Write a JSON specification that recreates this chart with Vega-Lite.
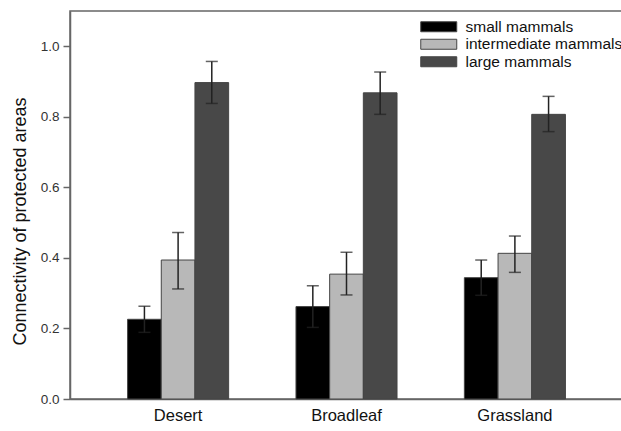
{
  "$schema": "https://vega.github.io/schema/vega-lite/v6.json",
  "width": 553,
  "height": 388,
  "autosize": "none",
  "padding": {"left": 70, "top": 11, "right": 0, "bottom": 32},
  "background": "white",
  "config": {
    "font": "Liberation Sans",
    "view": {"stroke": "#666666", "strokeWidth": 1.5}
  },
  "data": {
    "values": [
      {"habitat": "Desert", "group": "small mammals", "value": 0.226, "lo": 0.189, "hi": 0.263},
      {"habitat": "Desert", "group": "intermediate mammals", "value": 0.394, "lo": 0.312, "hi": 0.472},
      {"habitat": "Desert", "group": "large mammals", "value": 0.897, "lo": 0.838, "hi": 0.957},
      {"habitat": "Broadleaf", "group": "small mammals", "value": 0.262, "lo": 0.203, "hi": 0.321},
      {"habitat": "Broadleaf", "group": "intermediate mammals", "value": 0.354, "lo": 0.295, "hi": 0.416},
      {"habitat": "Broadleaf", "group": "large mammals", "value": 0.868, "lo": 0.807, "hi": 0.927},
      {"habitat": "Grassland", "group": "small mammals", "value": 0.344, "lo": 0.294, "hi": 0.394},
      {"habitat": "Grassland", "group": "intermediate mammals", "value": 0.413, "lo": 0.359, "hi": 0.462},
      {"habitat": "Grassland", "group": "large mammals", "value": 0.807, "lo": 0.758, "hi": 0.858}
    ]
  },
  "encoding": {
    "x": {
      "field": "habitat",
      "type": "nominal",
      "sort": ["Desert", "Broadleaf", "Grassland"],
      "scale": {"paddingInner": 0.4, "paddingOuter": 0.342, "align": 0.5},
      "axis": {
        "title": null,
        "labelAngle": 0,
        "labelFontSize": 16.5,
        "labelColor": "#111111",
        "labelPadding": 8,
        "ticks": false,
        "domainColor": "#666666",
        "domainWidth": 1.5
      }
    },
    "xOffset": {
      "field": "group",
      "type": "nominal",
      "sort": ["small mammals", "intermediate mammals", "large mammals"],
      "scale": {"paddingInner": 0, "paddingOuter": 0}
    }
  },
  "layer": [
    {
      "mark": {"type": "bar", "stroke": "#444444", "strokeWidth": 1},
      "encoding": {
        "y": {
          "field": "value",
          "type": "quantitative",
          "scale": {"domain": [0, 1.1], "nice": false},
          "axis": {
            "title": "Connectivity of protected areas",
            "titleFontSize": 18,
            "titleFontWeight": "normal",
            "titleColor": "#111111",
            "titlePadding": 11,
            "titleY": 210,
            "values": [0, 0.2, 0.4, 0.6, 0.8, 1.0],
            "format": ".1f",
            "grid": false,
            "labelFontSize": 13.5,
            "labelColor": "#333333",
            "labelPadding": 4,
            "tickSize": 7,
            "tickColor": "#666666",
            "tickWidth": 1.5,
            "domainColor": "#666666",
            "domainWidth": 1.5
          }
        },
        "color": {
          "field": "group",
          "type": "nominal",
          "sort": ["small mammals", "intermediate mammals", "large mammals"],
          "scale": {
            "domain": ["small mammals", "intermediate mammals", "large mammals"],
            "range": ["#000000", "#b8b8b8", "#484848"]
          },
          "legend": {
            "title": null,
            "orient": "none",
            "legendX": 361,
            "legendY": 8,
            "padding": 0,
            "symbolType": "M-3.6,-1H3.6V1H-3.6Z",
            "symbolSize": 100,
            "symbolStrokeColor": "#444444",
            "symbolStrokeWidth": 1,
            "labelOffset": 19,
            "labelFontSize": 15.5,
            "labelColor": "#111111",
            "rowPadding": 0.5
          }
        }
      }
    },
    {
      "mark": {"type": "rule", "color": "#222222", "strokeWidth": 1.5},
      "encoding": {
        "y": {"field": "lo", "type": "quantitative"},
        "y2": {"field": "hi"}
      }
    },
    {
      "mark": {"type": "tick", "color": "#222222", "thickness": 1.5, "size": 12},
      "encoding": {
        "y": {"field": "hi", "type": "quantitative"}
      }
    },
    {
      "mark": {"type": "tick", "color": "#222222", "thickness": 1.5, "size": 12},
      "encoding": {
        "y": {"field": "lo", "type": "quantitative"}
      }
    }
  ]
}
